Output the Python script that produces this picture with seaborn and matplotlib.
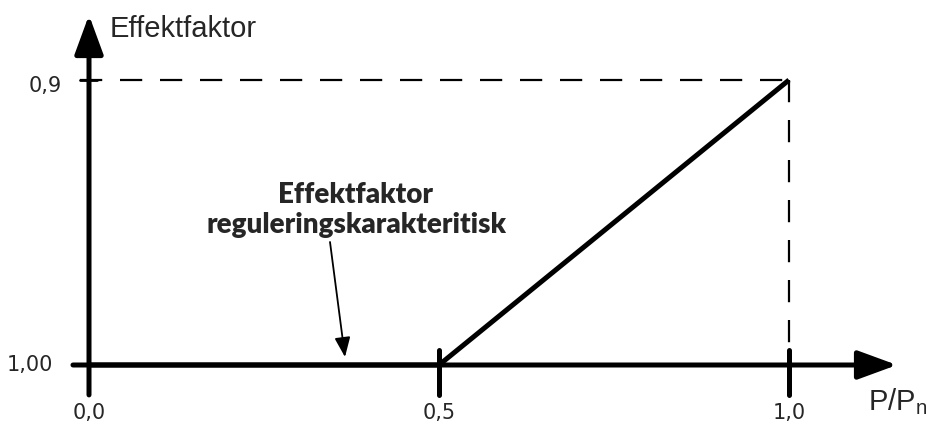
import matplotlib
matplotlib.use("Agg")
import matplotlib.pyplot as plt
import seaborn as sns
import pandas as pd

# Data
p_ratio = [0.0, 0.5, 1.0]
power_factor = [1.00, 1.00, 0.9]
x_ticks = [0.0, 0.5, 1.0]
x_tick_labels = ["0,0", "0,5", "1,0"]
y_ticks = [1.00, 0.9]
y_tick_labels = ["1,00", "0,9"]

df = pd.DataFrame({"p": p_ratio, "pf": power_factor})

sns.set_theme(style="white")
plt.rcParams["font.family"] = ["DejaVu Sans"]
plt.rcParams["mathtext.fontset"] = "custom"
plt.rcParams["mathtext.rm"] = "Liberation Sans"

fig = plt.figure(figsize=(9.28, 4.25), dpi=100)
ax = fig.add_axes([0, 0, 1, 1])

# pixel scale: 700 px per unit in x, 2850 px per unit in y
ax.set_xlim(-89 / 700, (928 - 89) / 700)
ax.set_ylim(1.0 + 60 / 2850, 0.9 - 80 / 2850)
ax.axis("off")

# ------------------------------
# Axes with arrows
# ------------------------------
arrow = dict(arrowstyle="-|>,head_length=1.5,head_width=0.55", color="black",
             lw=3.6, mutation_scale=16, shrinkA=0, shrinkB=0)
ax.annotate("", xy=(1.1543, 1.0), xytext=(-0.0229, 1.0), arrowprops=arrow)
ax.annotate("", xy=(0.0, 0.8772), xytext=(0.0, 1.0105), arrowprops=arrow)

# dashed guide lines
ax.plot([-0.0129, x_ticks[2]], [y_ticks[1], y_ticks[1]], color="black",
        lw=1.6, dashes=(10, 8))
ax.plot([x_ticks[2], x_ticks[2]], [y_ticks[1], y_ticks[0]], color="black",
        lw=1.6, dashes=(10, 8))

# characteristic line
sns.lineplot(data=df, x="p", y="pf", color="black", lw=3.6, ax=ax,
             solid_capstyle="butt")

# ticks
for xt in x_ticks[1:]:
    ax.plot([xt, xt], [0.99474, 1.01053], color="black", lw=3.6,
            solid_capstyle="round")
ax.plot([-0.0129, 0.0114], [y_ticks[1], y_ticks[1]], color="black", lw=2)

# tick labels
for xt, lab in zip(x_ticks, x_tick_labels):
    ax.text(xt, 1.0 + 38 / 2850, lab, ha="center", va="top", fontsize=15)
ax.text(-0.0514, y_ticks[0], y_tick_labels[0], ha="right", va="center",
        fontsize=15)
ax.text(-0.0386, y_ticks[1] + 6 / 2850, y_tick_labels[1], ha="right",
        va="center", fontsize=15)

# axis labels
ax.text(0.03, 0.88491, "Effektfaktor", ha="left", va="baseline",
        fontsize=21, family="Liberation Sans")
ax.text(1.1129, 1.01579, r"P/P$_\mathrm{n}$", ha="left", va="baseline",
        fontsize=21, family="Liberation Sans")

# annotation
ax.text((356 - 89) / 700, 0.9 + 130 / 2850,
        "Effektfaktor\nreguleringskarakteritisk",
        ha="center", va="center", fontsize=20, fontweight="heavy",
        family="Lato", linespacing=1.2)
ax.annotate("", xy=((345 - 89) / 700, 1.0 - 8 / 2850),
            xytext=((330 - 89) / 700, 0.9 + 162 / 2850),
            arrowprops=dict(arrowstyle="-|>,head_length=1.0,head_width=0.4",
                            color="black", lw=1.3, mutation_scale=12,
                            shrinkA=0, shrinkB=0))

fig.savefig("out.png", dpi=100)
